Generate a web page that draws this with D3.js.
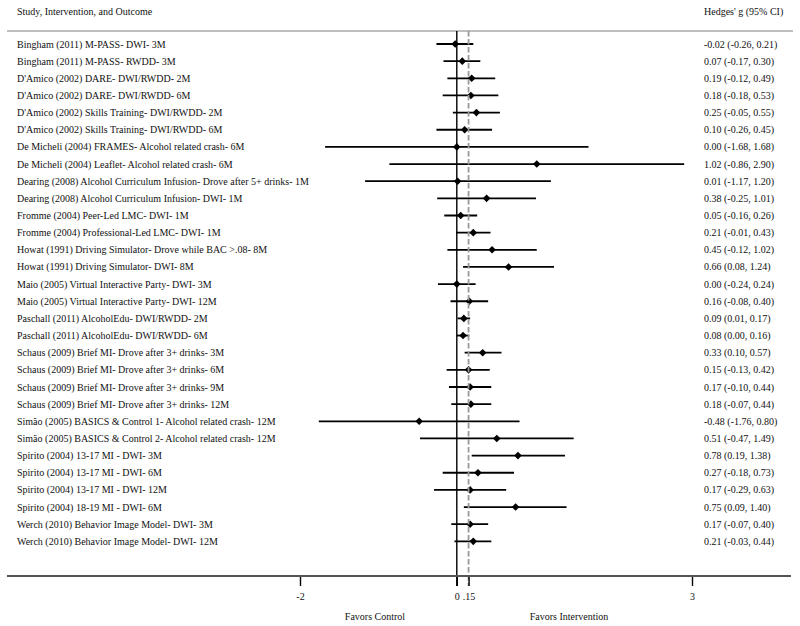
<!DOCTYPE html>
<html>
<head>
<meta charset="utf-8">
<script src="https://cdn.jsdelivr.net/npm/d3@7"></script>
<style>
  html, body { margin: 0; padding: 0; background: #fff; }
  svg { display: block; }
  text { font-family: "Liberation Serif", "Times New Roman", serif; fill: #111; }
</style>
</head>
<body>
<svg id="chart" width="800" height="626"></svg>
<script>
const studies = [
  "Bingham (2011) M-PASS- DWI- 3M",
  "Bingham (2011) M-PASS- RWDD- 3M",
  "D'Amico (2002) DARE- DWI/RWDD- 2M",
  "D'Amico (2002) DARE- DWI/RWDD- 6M",
  "D'Amico (2002) Skills Training- DWI/RWDD- 2M",
  "D'Amico (2002) Skills Training- DWI/RWDD- 6M",
  "De Micheli (2004) FRAMES- Alcohol related crash- 6M",
  "De Micheli (2004) Leaflet- Alcohol related crash- 6M",
  "Dearing (2008) Alcohol Curriculum Infusion- Drove after 5+ drinks- 1M",
  "Dearing (2008) Alcohol Curriculum Infusion- DWI- 1M",
  "Fromme (2004) Peer-Led LMC- DWI- 1M",
  "Fromme (2004) Professional-Led LMC- DWI- 1M",
  "Howat (1991) Driving Simulator- Drove while BAC >.08- 8M",
  "Howat (1991) Driving Simulator- DWI- 8M",
  "Maio (2005) Virtual Interactive Party- DWI- 3M",
  "Maio (2005) Virtual Interactive Party- DWI- 12M",
  "Paschall (2011) AlcoholEdu- DWI/RWDD- 2M",
  "Paschall (2011) AlcoholEdu- DWI/RWDD- 6M",
  "Schaus (2009) Brief MI- Drove after 3+ drinks- 3M",
  "Schaus (2009) Brief MI- Drove after 3+ drinks- 6M",
  "Schaus (2009) Brief MI- Drove after 3+ drinks- 9M",
  "Schaus (2009) Brief MI- Drove after 3+ drinks- 12M",
  "Simão (2005) BASICS & Control 1- Alcohol related crash- 12M",
  "Simão (2005) BASICS & Control 2- Alcohol related crash- 12M",
  "Spirito (2004) 13-17 MI - DWI- 3M",
  "Spirito (2004) 13-17 MI - DWI- 6M",
  "Spirito (2004) 13-17 MI - DWI- 12M",
  "Spirito (2004) 18-19 MI - DWI- 6M",
  "Werch (2010) Behavior Image Model- DWI- 3M",
  "Werch (2010) Behavior Image Model- DWI- 12M"
];
const effect = [-0.02, 0.07, 0.19, 0.18, 0.25, 0.10, 0.00, 1.02, 0.01, 0.38, 0.05, 0.21, 0.45, 0.66, 0.00, 0.16, 0.09, 0.08, 0.33, 0.15, 0.17, 0.18, -0.48, 0.51, 0.78, 0.27, 0.17, 0.75, 0.17, 0.21];
const lower  = [-0.26, -0.17, -0.12, -0.18, -0.05, -0.26, -1.68, -0.86, -1.17, -0.25, -0.16, -0.01, -0.12, 0.08, -0.24, -0.08, 0.01, 0.00, 0.10, -0.13, -0.10, -0.07, -1.76, -0.47, 0.19, -0.18, -0.29, 0.09, -0.07, -0.03];
const upper  = [0.21, 0.30, 0.49, 0.53, 0.55, 0.45, 1.68, 2.90, 1.20, 1.01, 0.26, 0.43, 1.02, 1.24, 0.24, 0.40, 0.17, 0.16, 0.57, 0.42, 0.44, 0.44, 0.80, 1.49, 1.38, 0.73, 0.63, 1.40, 0.40, 0.44];
const tickValues = [-2, 0, 0.15, 3];
const tickLabels = ["-2", "0", ".15", "3"];
const overallEffect = 0.15;
const headerLeft = "Study, Intervention, and Outcome";
const headerRight = "Hedges' g (95% CI)";
const favorsLeft = "Favors Control";
const favorsRight = "Favors Intervention";

const rows = studies.map((s, i) => ({ study: s, g: effect[i], lo: lower[i], hi: upper[i], i }));
const fmt = v => v.toFixed(2);

const svg = d3.select("#chart");
const x = d3.scaleLinear().domain([-2, 3]).range([300, 692]);
const y = d3.scalePoint().domain(d3.range(rows.length)).range([44, 44 + 17.15 * (rows.length - 1)]);

const headerY = 31, axisY = 576, tickLen = 10;

// header text
svg.append("text").attr("x", 17).attr("y", 11).attr("dy", "0.35em").attr("font-size", 10).text(headerLeft);
svg.append("text").attr("x", 704).attr("y", 11).attr("dy", "0.35em").attr("font-size", 10).text(headerRight);
// header rule
svg.append("line").attr("x1", 7).attr("x2", 793).attr("y1", headerY).attr("y2", headerY)
  .attr("stroke", "#a8a8a8").attr("stroke-width", 1.3);

// row labels
svg.append("g").selectAll("text").data(rows).join("text")
  .attr("x", 17).attr("y", d => y(d.i)).attr("dy", "0.35em").attr("font-size", 10)
  .text(d => d.study);
svg.append("g").selectAll("text").data(rows).join("text")
  .attr("x", 704).attr("y", d => y(d.i)).attr("dy", "0.35em").attr("font-size", 10)
  .text(d => `${fmt(d.g)} (${fmt(d.lo)}, ${fmt(d.hi)})`);

// CI lines
svg.append("g").selectAll("line").data(rows).join("line")
  .attr("x1", d => x(d.lo)).attr("x2", d => x(d.hi))
  .attr("y1", d => y(d.i)).attr("y2", d => y(d.i))
  .attr("stroke", "#000").attr("stroke-width", 1.8);

// diamonds
const r = 3.8;
svg.append("g").selectAll("path").data(rows).join("path")
  .attr("d", d => { const cx = x(d.g), cy = y(d.i); return `M${cx - r},${cy}L${cx},${cy - r}L${cx + r},${cy}L${cx},${cy + r}Z`; })
  .attr("fill", "#000");

// null line
svg.append("line").attr("x1", x(0)).attr("x2", x(0)).attr("y1", headerY).attr("y2", axisY + tickLen)
  .attr("stroke", "#000").attr("stroke-width", 1.4);
// overall dashed line
svg.append("line").attr("x1", x(overallEffect)).attr("x2", x(overallEffect)).attr("y1", headerY).attr("y2", axisY + tickLen)
  .attr("stroke", "#9a9a9a").attr("stroke-width", 1.8).attr("stroke-dasharray", "5.5,2.5");

// axis
const axis = d3.axisBottom(x).tickValues(tickValues).tickSize(tickLen).tickPadding(7)
  .tickFormat((d, i) => tickLabels[i]);
const ag = svg.append("g").attr("transform", `translate(0,${axisY})`).call(axis);
ag.select(".domain").remove();
ag.selectAll(".tick line").attr("stroke", "#000").attr("stroke-width", 1.4);
ag.selectAll(".tick text").attr("font-size", 10).attr("font-family", "Liberation Serif, serif").attr("fill", "#111");
svg.append("line").attr("x1", 7).attr("x2", 791).attr("y1", axisY).attr("y2", axisY)
  .attr("stroke", "#555").attr("stroke-width", 2.2);

// favors labels
svg.append("text").attr("x", 375).attr("y", 616).attr("dy", "0.35em").attr("text-anchor", "middle").attr("font-size", 10).text(favorsLeft);
svg.append("text").attr("x", 569).attr("y", 616).attr("dy", "0.35em").attr("text-anchor", "middle").attr("font-size", 10).text(favorsRight);
</script>
</body>
</html>
